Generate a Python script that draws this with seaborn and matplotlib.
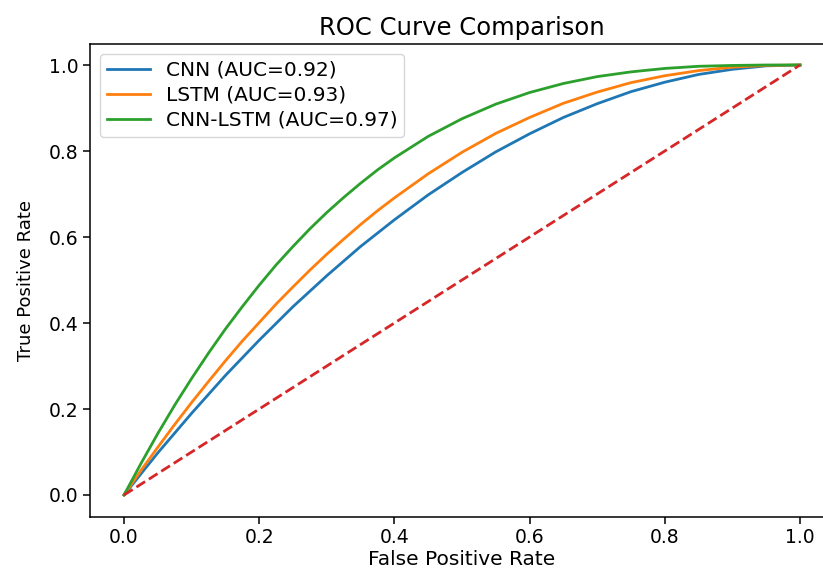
import matplotlib
matplotlib.use("Agg")
import matplotlib.pyplot as plt
import seaborn as sns

# False positive rate grid (denser where the curves bend most)
fpr = [0.000, 0.025, 0.050, 0.075, 0.100, 0.125, 0.150, 0.175, 0.200, 0.225,
       0.250, 0.275, 0.300, 0.325, 0.350, 0.375, 0.400, 0.45, 0.50, 0.55,
       0.60, 0.65, 0.70, 0.75, 0.80, 0.85, 0.90, 0.95, 1.00]

# True positive rate of each model
tpr_cnn = [0.000, 0.049, 0.098, 0.144, 0.190, 0.234, 0.278, 0.319, 0.360, 0.399,
           0.438, 0.474, 0.510, 0.544, 0.578, 0.609, 0.640, 0.698, 0.750, 0.798,
           0.840, 0.878, 0.910, 0.938, 0.960, 0.978, 0.990, 0.998, 1.000]
tpr_lstm = [0.000, 0.057, 0.111, 0.164, 0.215, 0.264, 0.312, 0.358, 0.401, 0.444,
            0.484, 0.523, 0.560, 0.595, 0.629, 0.661, 0.691, 0.747, 0.797, 0.841,
            0.878, 0.911, 0.937, 0.959, 0.975, 0.987, 0.995, 0.999, 1.000]
tpr_cnn_lstm = [0.000, 0.073, 0.143, 0.209, 0.271, 0.330, 0.386, 0.438, 0.488, 0.535,
                0.578, 0.619, 0.657, 0.692, 0.725, 0.756, 0.784, 0.834, 0.875, 0.909,
                0.936, 0.957, 0.973, 0.984, 0.992, 0.997, 0.999, 1.000, 1.000]

labels = ["CNN (AUC=0.92)", "LSTM (AUC=0.93)", "CNN-LSTM (AUC=0.97)"]
colors = ["tab:blue", "tab:orange", "tab:green"]

# chance line
diag = [0.0, 1.0]

plt.rcParams["font.family"] = ["DejaVu Sans"]
plt.rcParams["axes.linewidth"] = 1.1

fig = plt.figure(figsize=(8.23, 5.72), dpi=100)
ax = fig.add_axes([90.2 / 823, 1 - 516.5 / 572, 743.6 / 823, 473 / 572])

for y, lab, col in zip([tpr_cnn, tpr_lstm, tpr_cnn_lstm], labels, colors):
    sns.lineplot(x=fpr, y=y, ax=ax, color=col, label=lab, linewidth=2)

sns.lineplot(x=diag, y=diag, ax=ax, color="tab:red", linestyle="--",
             linewidth=2, legend=False)

ax.set_xlim(-0.05, 1.05)
ax.set_ylim(-0.05, 1.05)
ax.set_xticks([0.0, 0.2, 0.4, 0.6, 0.8, 1.0])
ax.set_yticks([0.0, 0.2, 0.4, 0.6, 0.8, 1.0])
ax.tick_params(labelsize=13.5, length=5, width=1.1)

ax.set_title("ROC Curve Comparison", fontsize=17.5, pad=6)
ax.set_xlabel("False Positive Rate", fontsize=14.5, labelpad=2)
ax.set_ylabel("True Positive Rate", fontsize=13, labelpad=10)
ax.legend(loc="upper left", fontsize=14.5, labelspacing=0.3, borderpad=0.35,
          handlelength=2.1)

fig.savefig("out.png", dpi=100)
